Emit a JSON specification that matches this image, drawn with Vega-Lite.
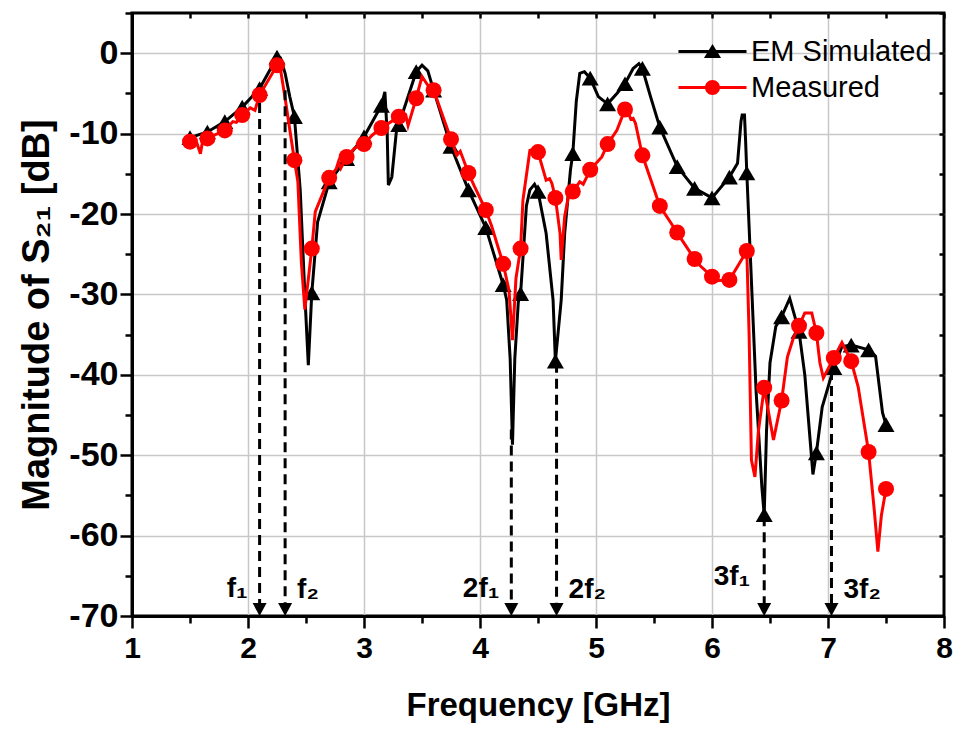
{
  "$schema": "https://vega.github.io/schema/vega-lite/v6.json",
  "width": 812,
  "height": 603,
  "autosize": {"type": "none"},
  "padding": {"left": 132, "top": 13, "right": 12, "bottom": 113},
  "background": "white",
  "config": {
    "font": "Liberation Sans",
    "view": {"stroke": "black", "strokeWidth": 3},
    "axis": {"labelColor": "black", "titleColor": "black", "tickColor": "black", "domainColor": "black"}
  },
  "datasets": {
    "sim": [
      {"f": 1.5, "db": -10.5}, {"f": 1.65, "db": -9.8}, {"f": 1.8, "db": -8.5}, {"f": 1.95, "db": -6.7},
      {"f": 2.1, "db": -4.4}, {"f": 2.25, "db": -0.5}, {"f": 2.28, "db": -0.6}, {"f": 2.32, "db": -2.5},
      {"f": 2.36, "db": -5.4}, {"f": 2.4, "db": -7.9}, {"f": 2.45, "db": -17}, {"f": 2.49, "db": -30},
      {"f": 2.52, "db": -38.8}, {"f": 2.55, "db": -29.8}, {"f": 2.6, "db": -21}, {"f": 2.7, "db": -16},
      {"f": 2.85, "db": -13.1}, {"f": 3.0, "db": -10.4}, {"f": 3.15, "db": -6.5}, {"f": 3.18, "db": -4.8},
      {"f": 3.2, "db": -10}, {"f": 3.21, "db": -16.4}, {"f": 3.24, "db": -15.4}, {"f": 3.28, "db": -9.6},
      {"f": 3.3, "db": -8.9}, {"f": 3.45, "db": -2.3}, {"f": 3.5, "db": -1.5}, {"f": 3.55, "db": -2.2},
      {"f": 3.6, "db": -4.6}, {"f": 3.75, "db": -11.6}, {"f": 3.9, "db": -17}, {"f": 4.05, "db": -21.7},
      {"f": 4.2, "db": -28.8}, {"f": 4.23, "db": -30.7}, {"f": 4.26, "db": -38}, {"f": 4.28, "db": -48.7},
      {"f": 4.3, "db": -38}, {"f": 4.33, "db": -31}, {"f": 4.35, "db": -29.9}, {"f": 4.4, "db": -19},
      {"f": 4.43, "db": -17}, {"f": 4.47, "db": -16.3}, {"f": 4.5, "db": -17.2}, {"f": 4.57, "db": -22.4},
      {"f": 4.63, "db": -30.7}, {"f": 4.65, "db": -38.3}, {"f": 4.7, "db": -30.7}, {"f": 4.73, "db": -22.4},
      {"f": 4.78, "db": -14.5}, {"f": 4.8, "db": -12.5}, {"f": 4.83, "db": -6}, {"f": 4.86, "db": -2.5},
      {"f": 4.9, "db": -2.3}, {"f": 4.95, "db": -3.1}, {"f": 5.02, "db": -5.4}, {"f": 5.1, "db": -6.3},
      {"f": 5.18, "db": -5}, {"f": 5.25, "db": -3.8}, {"f": 5.32, "db": -1.9}, {"f": 5.37, "db": -1.3},
      {"f": 5.4, "db": -1.9}, {"f": 5.47, "db": -5.4}, {"f": 5.55, "db": -9.2}, {"f": 5.7, "db": -14.1},
      {"f": 5.85, "db": -16.8}, {"f": 6.0, "db": -18}, {"f": 6.15, "db": -15.4}, {"f": 6.22, "db": -13.7},
      {"f": 6.25, "db": -8.5}, {"f": 6.26, "db": -7.7}, {"f": 6.28, "db": -7.7}, {"f": 6.29, "db": -11},
      {"f": 6.3, "db": -14.9}, {"f": 6.33, "db": -25}, {"f": 6.38, "db": -42}, {"f": 6.43, "db": -54},
      {"f": 6.45, "db": -57.4}, {"f": 6.47, "db": -47}, {"f": 6.5, "db": -38.5}, {"f": 6.55, "db": -34},
      {"f": 6.6, "db": -32.8}, {"f": 6.67, "db": -30.5}, {"f": 6.75, "db": -34.6}, {"f": 6.8, "db": -40},
      {"f": 6.87, "db": -52.4}, {"f": 6.9, "db": -49.7}, {"f": 6.95, "db": -44}, {"f": 7.05, "db": -39.1},
      {"f": 7.12, "db": -36.5}, {"f": 7.2, "db": -36.3}, {"f": 7.35, "db": -36.9}, {"f": 7.41, "db": -37.7},
      {"f": 7.47, "db": -44.7}, {"f": 7.5, "db": -46.2}
    ],
    "meas": [
      {"f": 1.5, "db": -11}, {"f": 1.56, "db": -11.2}, {"f": 1.59, "db": -12.5}, {"f": 1.61, "db": -10.8},
      {"f": 1.65, "db": -10.6}, {"f": 1.8, "db": -9.6}, {"f": 1.87, "db": -8.5}, {"f": 1.9, "db": -8.6},
      {"f": 1.95, "db": -7.7}, {"f": 2.02, "db": -6.8}, {"f": 2.06, "db": -7.1}, {"f": 2.1, "db": -5.2},
      {"f": 2.25, "db": -1.5}, {"f": 2.28, "db": -2}, {"f": 2.32, "db": -5.6}, {"f": 2.36, "db": -9.5},
      {"f": 2.4, "db": -13.3}, {"f": 2.43, "db": -16}, {"f": 2.46, "db": -26}, {"f": 2.49, "db": -31.9},
      {"f": 2.55, "db": -24.3}, {"f": 2.58, "db": -19.7}, {"f": 2.7, "db": -15.5}, {"f": 2.76, "db": -14.4},
      {"f": 2.78, "db": -13.5}, {"f": 2.8, "db": -14.3}, {"f": 2.85, "db": -12.9}, {"f": 2.92, "db": -11.8},
      {"f": 3.0, "db": -11.3}, {"f": 3.07, "db": -10.2}, {"f": 3.15, "db": -9.3}, {"f": 3.3, "db": -7.9},
      {"f": 3.36, "db": -7.7}, {"f": 3.38, "db": -9}, {"f": 3.45, "db": -5.6}, {"f": 3.5, "db": -2.9},
      {"f": 3.55, "db": -4}, {"f": 3.6, "db": -4.6}, {"f": 3.75, "db": -10.7}, {"f": 3.8, "db": -12.7},
      {"f": 3.83, "db": -12.2}, {"f": 3.9, "db": -14.9}, {"f": 3.95, "db": -16.5}, {"f": 4.05, "db": -19.5},
      {"f": 4.1, "db": -21.5}, {"f": 4.2, "db": -26.2}, {"f": 4.25, "db": -29.5}, {"f": 4.28, "db": -35.7},
      {"f": 4.31, "db": -28}, {"f": 4.35, "db": -24.3}, {"f": 4.37, "db": -18.3}, {"f": 4.43, "db": -12.1},
      {"f": 4.47, "db": -11.9}, {"f": 4.5, "db": -12.3}, {"f": 4.57, "db": -15.8}, {"f": 4.6, "db": -15.6},
      {"f": 4.62, "db": -16.2}, {"f": 4.65, "db": -18}, {"f": 4.69, "db": -22.4}, {"f": 4.7, "db": -25.7},
      {"f": 4.73, "db": -20.3}, {"f": 4.76, "db": -18}, {"f": 4.8, "db": -17.2}, {"f": 4.86, "db": -16},
      {"f": 4.89, "db": -16.3}, {"f": 4.95, "db": -14.5}, {"f": 5.05, "db": -12.9}, {"f": 5.1, "db": -11.3},
      {"f": 5.18, "db": -9.6}, {"f": 5.25, "db": -7}, {"f": 5.28, "db": -7.5}, {"f": 5.3, "db": -8.2},
      {"f": 5.32, "db": -8.1}, {"f": 5.34, "db": -8.7}, {"f": 5.4, "db": -12.7}, {"f": 5.55, "db": -19},
      {"f": 5.7, "db": -22.3}, {"f": 5.73, "db": -23}, {"f": 5.85, "db": -25.6}, {"f": 5.88, "db": -26.2},
      {"f": 6.0, "db": -27.8}, {"f": 6.02, "db": -28.3}, {"f": 6.15, "db": -28.2}, {"f": 6.3, "db": -24.6},
      {"f": 6.32, "db": -35}, {"f": 6.34, "db": -50.6}, {"f": 6.37, "db": -52.7}, {"f": 6.4, "db": -47},
      {"f": 6.45, "db": -41.6}, {"f": 6.53, "db": -48.1}, {"f": 6.6, "db": -43.2}, {"f": 6.65, "db": -37.8},
      {"f": 6.7, "db": -35.5}, {"f": 6.75, "db": -33.9}, {"f": 6.8, "db": -32.3}, {"f": 6.86, "db": -32.3},
      {"f": 6.9, "db": -34.8}, {"f": 6.93, "db": -38.5}, {"f": 6.96, "db": -40.4}, {"f": 7.05, "db": -37.9},
      {"f": 7.12, "db": -36}, {"f": 7.2, "db": -38.3}, {"f": 7.26, "db": -41.5}, {"f": 7.35, "db": -49.6},
      {"f": 7.4, "db": -57}, {"f": 7.43, "db": -62}, {"f": 7.46, "db": -57.5}, {"f": 7.5, "db": -54.2}
    ],
    "harmonics": [
      {"label": "f₁", "f": 2.1, "top": -6.2},
      {"label": "f₂", "f": 2.32, "top": -4.6},
      {"label": "2f₁", "f": 4.27, "top": -46.8},
      {"label": "2f₂", "f": 4.66, "top": -38.5},
      {"label": "3f₁", "f": 6.45, "top": -57.6},
      {"label": "3f₂", "f": 7.03, "top": -39.4}
    ]
  },
  "resolve": {"axis": {"x": "independent", "y": "independent"}},
  "layer": [
    {
      "data": {"name": "sim"},
      "mark": {"type": "line", "color": "#000000", "strokeWidth": 3, "clip": false},
      "encoding": {
        "x": {
          "field": "f", "type": "quantitative",
          "scale": {"domain": [1, 8], "nice": false, "zero": false},
          "axis": {
            "orient": "bottom",
            "values": [1, 1.5, 2, 2.5, 3, 3.5, 4, 4.5, 5, 5.5, 6, 6.5, 7, 7.5, 8],
            "labelExpr": "datum.value % 1 === 0 ? '' + datum.value : ''",
            "labelFontSize": 30, "labelFontWeight": "bold", "labelPadding": 5,
            "labelFlush": false, "labelOverlap": false,
            "tickSize": {"condition": {"test": "datum.value % 1 === 0", "value": 12}, "value": 7},
            "tickWidth": 2.5, "domainWidth": 3,
            "grid": true, "gridColor": "#c8c8c8", "gridWidth": 1.5,
            "gridOpacity": {"condition": {"test": "datum.value % 1 === 0 && datum.value > 1 && datum.value < 8", "value": 1}, "value": 0},
            "title": "Frequency [GHz]", "titleFontSize": 33, "titleFontWeight": "bold", "titlePadding": 26
          }
        },
        "y": {
          "field": "db", "type": "quantitative",
          "scale": {"domain": [-70, 5], "nice": false, "zero": false},
          "axis": {
            "orient": "left",
            "values": [-70, -65, -60, -55, -50, -45, -40, -35, -30, -25, -20, -15, -10, -5, 0, 5],
            "labelExpr": "datum.value % 10 === 0 ? '' + datum.value : ''",
            "labelFontSize": 34, "labelFontWeight": "bold", "labelPadding": 2,
            "labelFlush": false, "labelOverlap": false,
            "tickSize": {"condition": {"test": "datum.value % 10 === 0", "value": 12}, "value": 7},
            "tickWidth": 2.5, "domainWidth": 3,
            "grid": true, "gridColor": "#c8c8c8", "gridWidth": 1.5,
            "gridOpacity": {"condition": {"test": "datum.value % 10 === 0 && datum.value > -70", "value": 1}, "value": 0},
            "title": "Magnitude of S₂₁ [dB]", "titleFontSize": 38, "titleFontWeight": "bold", "titlePadding": 12
          }
        }
      }
    },
    {
      "data": {"name": "sim"},
      "transform": [{"filter": "round((datum.f - 1.5) * 100) % 15 === 0"}],
      "mark": {"type": "point", "shape": "triangle-up", "color": "#000000", "filled": true, "opacity": 1, "size": 289, "clip": false},
      "encoding": {
        "x": {"field": "f", "type": "quantitative", "axis": null},
        "y": {"field": "db", "type": "quantitative", "axis": null}
      }
    },
    {
      "data": {"name": "meas"},
      "mark": {"type": "line", "color": "#ff0000", "strokeWidth": 3, "clip": false},
      "encoding": {
        "x": {"field": "f", "type": "quantitative", "axis": null},
        "y": {"field": "db", "type": "quantitative", "axis": null}
      }
    },
    {
      "data": {"name": "meas"},
      "transform": [{"filter": "round((datum.f - 1.5) * 100) % 15 === 0"}],
      "mark": {"type": "point", "shape": "circle", "color": "#ff0000", "filled": true, "opacity": 1, "size": 256, "clip": false},
      "encoding": {
        "x": {"field": "f", "type": "quantitative", "axis": null},
        "y": {"field": "db", "type": "quantitative", "axis": null}
      }
    },
    {
      "data": {"name": "harmonics"},
      "mark": {"type": "rule", "color": "black", "strokeWidth": 3, "strokeDash": [10, 6]},
      "encoding": {
        "x": {
          "field": "f", "type": "quantitative",
          "axis": {
            "orient": "top", "values": [1, 1.5, 2, 2.5, 3, 3.5, 4, 4.5, 5, 5.5, 6, 6.5, 7, 7.5, 8],
            "labels": false, "domain": false, "grid": false, "title": null,
            "tickSize": -5, "tickWidth": 2.5
          }
        },
        "y": {
          "field": "top", "type": "quantitative",
          "axis": {
            "orient": "right", "values": [-70, -65, -60, -55, -50, -45, -40, -35, -30, -25, -20, -15, -10, -5, 0, 5],
            "labels": false, "domain": false, "grid": false, "title": null,
            "tickSize": -5, "tickWidth": 2.5
          }
        },
        "y2": {"datum": -69}
      }
    },
    {
      "data": {"name": "harmonics"},
      "mark": {"type": "point", "filled": true, "opacity": 1, "color": "black", "size": 196, "shape": "M-1,-1.85L1,-1.85L0,0Z"},
      "encoding": {
        "x": {"field": "f", "type": "quantitative", "axis": null},
        "y": {"datum": -70, "type": "quantitative", "axis": null}
      }
    },
    {
      "data": {"name": "harmonics"},
      "transform": [{"filter": "datum.label === 'f₁' || datum.label === '2f₁'"}],
      "mark": {"type": "text", "align": "right", "baseline": "alphabetic", "dx": -12, "fontSize": 28, "fontWeight": "bold", "color": "black"},
      "encoding": {
        "x": {"field": "f", "type": "quantitative", "axis": null},
        "y": {"datum": -67.6, "type": "quantitative", "axis": null},
        "text": {"field": "label"}
      }
    },
    {
      "data": {"name": "harmonics"},
      "transform": [{"filter": "datum.label === '3f₁'"}],
      "mark": {"type": "text", "align": "right", "baseline": "alphabetic", "dx": -14, "fontSize": 28, "fontWeight": "bold", "color": "black"},
      "encoding": {
        "x": {"field": "f", "type": "quantitative", "axis": null},
        "y": {"datum": -66.2, "type": "quantitative", "axis": null},
        "text": {"field": "label"}
      }
    },
    {
      "data": {"name": "harmonics"},
      "transform": [{"filter": "test(/₂$/, datum.label)"}],
      "mark": {"type": "text", "align": "left", "baseline": "alphabetic", "dx": 12, "fontSize": 28, "fontWeight": "bold", "color": "black"},
      "encoding": {
        "x": {"field": "f", "type": "quantitative", "axis": null},
        "y": {"datum": -67.8, "type": "quantitative", "axis": null},
        "text": {"field": "label"}
      }
    },
    {
      "data": {"name": "harmonics"},
      "mark": {"type": "point", "filled": true, "opacity": 0, "size": 361},
      "encoding": {
        "x": {"field": "f", "type": "quantitative", "axis": null},
        "y": {"field": "top", "type": "quantitative", "axis": null},
        "color": {
          "datum": "EM Simulated", "type": "nominal",
          "scale": {"domain": ["EM Simulated", "Measured"], "range": ["#000000", "#ff0000"]},
          "legend": {
            "orient": "none", "legendX": 566, "legendY": 24, "title": null, "padding": 0,
            "labelFontSize": 29, "labelFontWeight": "normal", "labelColor": "black", "labelOffset": 24, "labelLimit": 400,
            "symbolSize": 361, "symbolStrokeWidth": 0, "symbolOpacity": 1, "rowPadding": 6
          }
        },
        "shape": {
          "datum": "EM Simulated", "type": "nominal",
          "scale": {
            "domain": ["EM Simulated", "Measured"],
            "range": [
              "M-3.58,-0.16H3.58V0.16H-3.58ZM-0.9,0.68L0,-0.79L0.9,0.68Z",
              "M-3.58,-0.16H3.58V0.16H-3.58ZM0.79,0A0.79,0.79,0,1,1,-0.79,0A0.79,0.79,0,1,1,0.79,0Z"
            ]
          },
          "legend": {
            "orient": "none", "legendX": 566, "legendY": 24, "title": null, "padding": 0,
            "labelFontSize": 29, "labelFontWeight": "normal", "labelColor": "black", "labelOffset": 24, "labelLimit": 400,
            "symbolSize": 361, "symbolStrokeWidth": 0, "symbolOpacity": 1, "rowPadding": 6
          }
        }
      }
    }
  ]
}
